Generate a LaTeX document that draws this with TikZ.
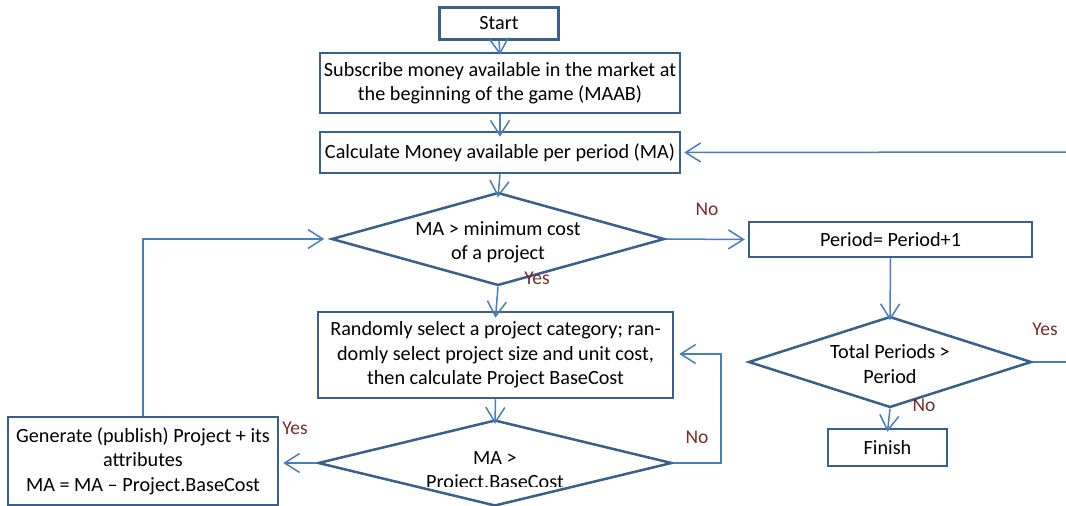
\documentclass[tikz,border=0pt]{standalone}
\usepackage{fontspec}
\setmainfont{Carlito}
\usetikzlibrary{shapes.geometric,arrows.meta}
\definecolor{boxblue}{RGB}{58,95,139}
\definecolor{arrowblue}{RGB}{74,126,187}
\definecolor{lblred}{RGB}{122,44,44}
\tikzset{
  box/.style={draw=boxblue, line width=2.5pt, inner sep=0pt, align=center,
    font=\fontsize{20.2}{24.4}\selectfont},
  dia/.style={draw=boxblue, line width=2.5pt, diamond, inner sep=0pt},
  dtext/.style={align=center, font=\fontsize{20.2}{24.4}\selectfont, inner sep=0pt},
  arr/.style={draw=arrowblue, line width=1.5pt,
    -{Straight Barb[length=15pt,width=19pt,line width=1.5pt]}},
  ln/.style={draw=arrowblue, line width=1.5pt},
  lbl/.style={text=lblred, font=\fontsize{19.5}{23}\selectfont, inner sep=0pt}
}
\begin{document}
\begin{tikzpicture}[x=1pt,y=-1pt]
\useasboundingbox (0,0) rectangle (1066,506);
\clip (0,0) rectangle (1066,506);
\fill[white] (0,0) rectangle (1066,506);
% boxes
\node[box, minimum width=119pt, minimum height=32pt] (start) at (499,23.5) {Start};
\node[box, minimum width=360pt, minimum height=60pt] (sub) at (500,83)
  {Subscribe money available in the market at\\the beginning of the game (MAAB)};
\node[box, minimum width=360pt, minimum height=41pt] (calc) at (500,152.5)
  {Calculate Money available per period (MA)};
\node[dia, minimum width=333pt, minimum height=93pt] (d1) at (498,239) {};
\node[dtext] (d1t) at (498,242) {MA > minimum cost\\of a project};
\node[box, minimum width=283pt, minimum height=35pt] (period) at (890.5,239.5) {Period= Period+1};
\node[dia, minimum width=283pt, minimum height=91pt] (d2) at (890,362) {};
\node[dtext] (d2t) at (890,364) {Total Periods >\\Period};
\node[box, minimum width=119pt, minimum height=37pt] (finish) at (887.5,447.5) {Finish};
\node[box, minimum width=355pt, minimum height=86pt] (rand) at (495.5,355)
  {Randomly select a project category; ran-\\domly select project size and unit cost,\\then calculate Project BaseCost};
\node[dia, minimum width=354pt, minimum height=86pt] (d3) at (495,463) {};
\begin{scope}
  \clip (320,420) rectangle (670,486);
  \node[dtext] (d3t) at (495,472) {MA >\\Project.BaseCost};
\end{scope}
\node[box, minimum width=270pt, minimum height=88pt] (gen) at (143,461)
  {Generate (publish) Project + its\\attributes\\MA = MA -- Project.BaseCost};
% free-end coordinates
\coordinate (yesout) at (1070,362);
\coordinate (loopin) at (1070,152);
\coordinate (noright) at (721,463);
\coordinate (noup) at (721,354);
\coordinate (genup) at (143,239);
% connectors
\draw[arr] (start.south) -- ([yshift=-3pt]sub.north);
\draw[arr] (sub.south) -- ([yshift=-6pt]calc.north);
\draw[arr] (calc.south) -- ([yshift=-6pt]d1.north);
\draw[arr] (d1.south) -- ([yshift=-7pt]rand.north);
\draw[arr] (d1.east) -- ([xshift=-3pt]period.west);
\draw[arr] (period.south) -- ([yshift=-5pt]d2.north);
\draw[arr] (d2.south) -- ([yshift=-4pt]finish.north);
\draw[arr] (rand.south) -- ([yshift=-5pt]d3.north);
\draw[arr] (d3.east) -- (noright) -- (noup) -- ([xshift=5pt]rand.east |- noup);
\draw[arr] (d3.west) -- ([xshift=4pt]gen.east |- d3.west);
\draw[arr] (gen.north -| genup) -- (genup) -- ([xshift=-6pt]d1.west);
\draw[ln] (d2.east) -- (yesout);
\draw[arr] (loopin) -- ([xshift=3pt]calc.east);
% labels
\node[lbl] (l1) at (707,209) {No};
\node[lbl] (l2) at (537,278) {Yes};
\node[lbl] (l3) at (1045,329) {Yes};
\node[lbl] (l4) at (924,405) {No};
\node[lbl] (l5) at (697,437) {No};
\node[lbl] (l6) at (295,428) {Yes};
\end{tikzpicture}
\end{document}
